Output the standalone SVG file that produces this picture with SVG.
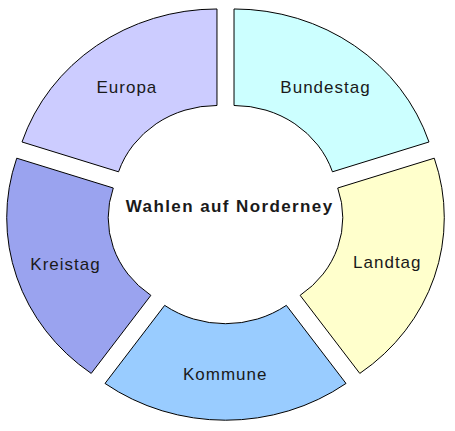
<svg xmlns="http://www.w3.org/2000/svg" width="455" height="431" viewBox="0 0 455 431">
<style>
.seg{stroke:#000;stroke-width:1;stroke-linejoin:miter}
.lbl{font-family:"Liberation Sans",Arial,sans-serif;font-size:17px;letter-spacing:1px;fill:#1a1a1a;text-anchor:middle}
.title{font-family:"Liberation Sans",Arial,sans-serif;font-size:17px;font-weight:bold;letter-spacing:1.4px;fill:#1a1a1a;text-anchor:middle}
</style>
<rect width="455" height="431" fill="#fff"/>
<g id="bundestag">
<path class="seg" fill="#ccffff" transform="translate(234.02,201.47)" d="M0,-192.5 A205,192.5 0 0 1 194.97,-59.49 L98.44,-29.67 A103.5,96 0 0 0 0,-96 Z"/>
<text class="lbl" x="325.5" y="93.3">Bundestag</text>
</g>
<g id="landtag">
<path class="seg" fill="#ffffcc" transform="translate(239.29,217.68)" d="M194.97,-59.49 A205,192.5 0 0 1 120.5,155.74 L60.84,77.67 A103.5,96 0 0 0 98.44,-29.67 Z"/>
<text class="lbl" x="387.3" y="268.3">Landtag</text>
</g>
<g id="kommune">
<path class="seg" fill="#99ccff" transform="translate(225.5,227.7)" d="M120.5,155.74 A205,192.5 0 0 1 -120.5,155.74 L-60.84,77.67 A103.5,96 0 0 0 60.84,77.67 Z"/>
<text class="lbl" x="225.2" y="380">Kommune</text>
</g>
<g id="kreistag">
<path class="seg" fill="#9aa3ef" transform="translate(211.71,217.68)" d="M-120.5,155.74 A205,192.5 0 0 1 -194.97,-59.49 L-98.44,-29.67 A103.5,96 0 0 0 -60.84,77.67 Z"/>
<text class="lbl" x="65.5" y="270">Kreistag</text>
</g>
<g id="europa">
<path class="seg" fill="#ccccff" transform="translate(216.98,201.47)" d="M-194.97,-59.49 A205,192.5 0 0 1 0,-192.5 L0,-96 A103.5,96 0 0 0 -98.44,-29.67 Z"/>
<text class="lbl" x="126.9" y="92.7">Europa</text>
</g>
<g id="center">
<text class="title" x="229.7" y="211.7">Wahlen auf Norderney</text>
</g>
<g id="connectors"/>
</svg>
